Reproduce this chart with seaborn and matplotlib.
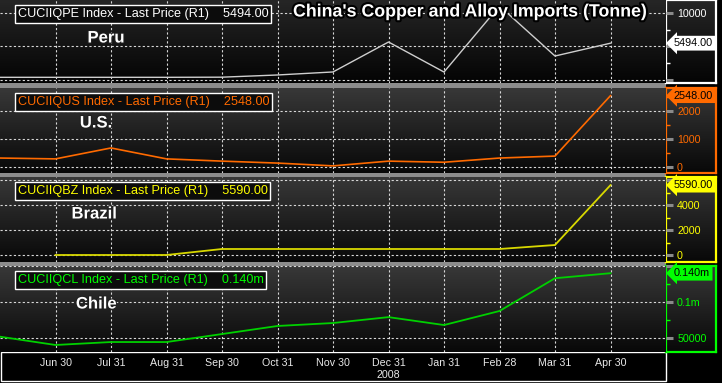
import numpy as np
import pandas as pd
import matplotlib
matplotlib.use("Agg")
import matplotlib.pyplot as plt
import seaborn as sns
from matplotlib import patheffects as pe
from matplotlib.patches import Rectangle
from matplotlib.colors import LinearSegmentedColormap
from matplotlib.transforms import blended_transform_factory

# ---------------- data ----------------
months = ["May 31", "Jun 30", "Jul 31", "Aug 31", "Sep 30", "Oct 31", "Nov 30",
          "Dec 31", "Jan 31", "Feb 28", "Mar 31", "Apr 30"]
x_labels = ["Jun 30", "Jul 31", "Aug 31", "Sep 30", "Oct 31", "Nov 30",
            "Dec 31\n2008", "Jan 31", "Feb 28", "Mar 31", "Apr 30"]
peru = [400, 400, 400, 400, 420, 750, 1200, 5670, 1190, 11050, 3580, 5494]
us = [320, 290, 680, 290, 210, 140, 40, 210, 170, 320, 390, 2548]
brazil = [np.nan, 0, 0, 0, 480, 480, 480, 480, 480, 480, 800, 5590]
chile = [51800, 40300, 44400, 44400, 55500, 66700, 70800, 79000, 68000, 87500, 133000, 140000]

codes = ["CUCIIQPE", "CUCIIQUS", "CUCIIQBZ", "CUCIIQCL"]
last_prices = ["5494.00", "2548.00", "5590.00", "0.140m"]
countries = ["Peru", "U.S.", "Brazil", "Chile"]
title = "China's Copper and Alloy Imports (Tonne)"

peru_ticks, peru_ticklabels = [0, 5000, 10000], ["", "", "10000"]
us_ticks, us_ticklabels = [0, 1000, 2000], ["0", "1000", "2000"]
brazil_ticks, brazil_ticklabels = [0, 2000, 4000, 6000], ["0", "2000", "4000", ""]
chile_ticks, chile_ticklabels = [50000, 100000, 150000], ["50000", "0.1m", ""]

# ---------------- layout / style ----------------
W, H = 722, 383
fig = plt.figure(figsize=(W / 100, H / 100), dpi=100, facecolor="black")
FONT = ["Liberation Sans", "DejaVu Sans"]
plt.rcParams["font.family"] = FONT


def fr(x0, y0, x1, y1):
    return [x0 / W, 1 - y1 / H, (x1 - x0) / W, (y1 - y0) / H]


grad = np.linspace(0, 1, 256).reshape(-1, 1)

panels = [
    dict(vals=peru, col="#ffffff", lc="#cfcfcf", lw=1.0, y=(0, 83), ylim=(-448, 11940),
         ticks=peru_ticks, tl=peru_ticklabels, minor=[2500, 7500], tagfc="#ffffff",
         cx=106, cy=38, g=("#040404", "#262626")),
    dict(vals=us, col="#ff6a00", lc="#ff6a00", lw=1.2, y=(88, 173), ylim=(-214, 2821),
         ticks=us_ticks, tl=us_ticklabels, minor=[500, 1500, 2500], tagfc="#ff6a00",
         cx=96, cy=123, g=("#080808", "#383838")),
    dict(vals=brazil, col="#ffff00", lc="#d8d800", lw=1.3, y=(177, 262), ylim=(-560, 6240),
         ticks=brazil_ticks, tl=brazil_ticklabels, minor=[1000, 3000, 5000], tagfc="#ffff00",
         cx=94, cy=214, g=("#080808", "#383838")),
    dict(vals=chile, col="#00ff00", lc="#00d000", lw=1.3, y=(266, 352), ylim=(30556, 150000),
         ticks=chile_ticks, tl=chile_ticklabels, minor=[75000, 125000], tagfc="#00ff00",
         cx=96, cy=304, g=("#080808", "#383838")),
]

x_idx = np.arange(len(months))

for i, p in enumerate(panels):
    y0, y1 = p["y"]
    cmap = LinearSegmentedColormap.from_list("g%d" % i, list(p["g"]))

    # right-hand axis box
    bax = fig.add_axes(fr(666, y0, 716, y1))
    bax.set_zorder(1)
    bax.imshow(grad, extent=[0, 1, 0, 1], aspect="auto", cmap=cmap, origin="lower")
    bax.set_xticks([])
    bax.set_yticks([])
    for s in bax.spines.values():
        s.set_color(p["col"])
        s.set_linewidth(1.6)

    ax = fig.add_axes(fr(0, y0, 666, y1))
    ax.set_zorder(2)
    ax.imshow(grad, extent=[0, 1, 0, 1], transform=ax.transAxes, aspect="auto",
              cmap=cmap, origin="lower", zorder=0)
    df = pd.DataFrame({"x": x_idx, "v": p["vals"]}).dropna()
    sns.lineplot(data=df, x="x", y="v", ax=ax, color=p["lc"], linewidth=p["lw"], zorder=3)
    ax.set_xlim(0, 12)
    ax.set_ylim(*p["ylim"])
    ax.set_xlabel("")
    ax.set_ylabel("")
    for s in ax.spines.values():
        s.set_visible(False)

    ax.yaxis.tick_right()
    ax.set_yticks(p["ticks"])
    ax.set_yticklabels(p["tl"])
    ax.set_yticks(p["minor"], minor=True)
    ax.tick_params(axis="y", which="major", direction="out", length=5, width=2.2,
                   color="#8a8a8a", labelcolor=p["col"], labelsize=7.7, pad=3)
    ax.tick_params(axis="y", which="minor", direction="out", length=3, width=1, color=p["col"])
    ax.set_xticks(range(1, 12))
    ax.grid(True, which="major", color="#d8d8d8", linestyle=(0, (2, 2)), linewidth=0.8)
    ax.set_axisbelow(False)
    if i < 3:
        ax.tick_params(axis="x", length=0, labelbottom=False)
    else:
        ax.set_xticklabels(x_labels)
        ax.tick_params(axis="x", length=0, labelcolor="#e8e8e8", labelsize=7.7, pad=4)
        for t in ax.get_xticklabels():
            t.set_linespacing(1.25)

    # last-price tag
    tr = blended_transform_factory(ax.transAxes, ax.transData)
    ax.text(674 / 666, p["vals"][-1], last_prices[i], transform=tr, ha="left", va="center",
            fontsize=7.8, color="black", clip_on=False, zorder=6,
            bbox=dict(boxstyle="larrow,pad=0.22", fc=p["tagfc"], ec="none"))

    # legend box
    fig.text(18 / W, 1 - (y0 + 14) / H,
             f"{codes[i]} Index - Last Price (R1)    {last_prices[i]}",
             color=p["col"], fontsize=9.1, ha="left", va="center", zorder=10,
             bbox=dict(boxstyle="square,pad=0.2", fc="#0c0c0c", ec="white", lw=1))

    # country label
    fig.text(p["cx"] / W, 1 - p["cy"] / H, countries[i], color="white", fontsize=12,
             fontweight="bold", ha="center", va="center", zorder=10,
             path_effects=[pe.withStroke(linewidth=1.5, foreground="#202020")])

# separators
for (a, b) in [(83, 88), (173, 177), (262, 266)]:
    fig.add_artist(Rectangle((0, 1 - b / H), 666 / W, (b - a) / H,
                             transform=fig.transFigure, fc="#8c8c8c", ec="none", zorder=1))

# date strip box
fig.add_artist(Rectangle((0.5 / W, 1 - 381 / H), 665.5 / W, 29 / H,
                         transform=fig.transFigure, fc="black", ec="white", lw=1, zorder=1))

# title
fig.text(293 / W, 1 - 12 / H, title, color="white", fontsize=12.8, fontweight="bold",
         ha="left", va="center", zorder=11,
         path_effects=[pe.withStroke(linewidth=3, foreground="black")])

fig.savefig("out.png", dpi=100, facecolor="black")
